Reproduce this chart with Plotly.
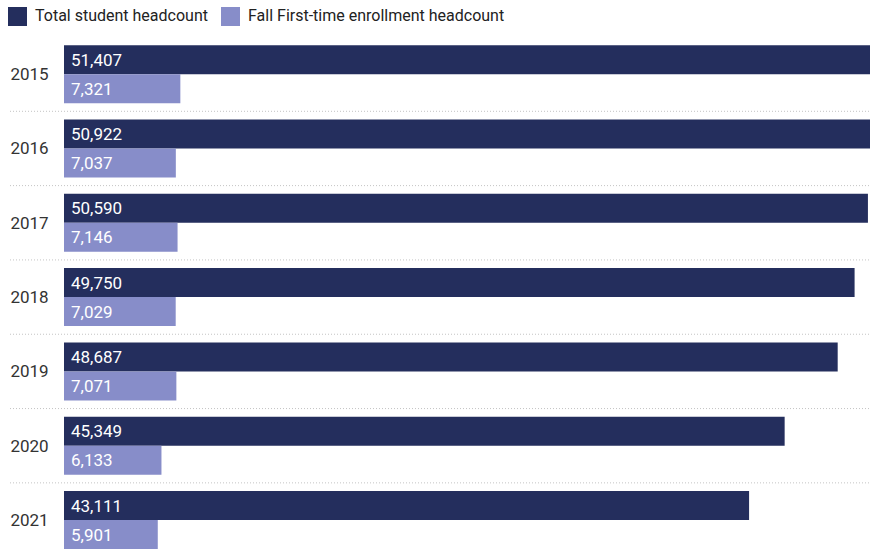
import plotly.graph_objects as go

years = ["2015", "2016", "2017", "2018", "2019", "2020", "2021"]
total_headcount = [51407, 50922, 50590, 49750, 48687, 45349, 43111]
first_time = [7321, 7037, 7146, 7029, 7071, 6133, 5901]
series_names = ["Total student headcount", "Fall First-time enrollment headcount"]
colors = ["#242e5d", "#878dc9"]

W, H = 870, 549
ML, MT = 64, 37
PW, PH = W - ML, H - MT

ypos = list(range(len(years)))

fig = go.Figure()
for vals, name, col in zip([total_headcount, first_time], series_names, colors):
    fig.add_trace(go.Bar(
        x=vals, y=ypos, orientation="h", name=name, marker=dict(color=col, line=dict(width=0)),
        showlegend=False, hoverinfo="x+name",
    ))

# value labels
for i in ypos:
    for k, vals in enumerate([total_headcount, first_time]):
        fig.add_annotation(
            x=0, y=i - 0.195 + 0.39 * k, xref="x", yref="y",
            text=f"{vals[i]:,}", showarrow=False, xanchor="left", yanchor="middle",
            xshift=5, font=dict(family="Roboto", size=17, color="white"),
        )

# dotted separators
for i in range(len(years) - 1):
    fig.add_shape(type="line", xref="paper", yref="y",
                  x0=-54 / PW, x1=1, y0=i + 0.5, y1=i + 0.5,
                  line=dict(color="#c4c4c4", width=1, dash="1px,2px"), layer="below")

# manual legend
legend_items = [(8, 33), (221, 246)]
for (sx, tx), name, col in zip(legend_items, series_names, colors):
    fig.add_shape(type="rect", xref="paper", yref="paper",
                  x0=(sx - ML) / PW, x1=(sx + 19 - ML) / PW,
                  y0=(H - 26) / PH, y1=(H - 7) / PH,
                  fillcolor=col, line=dict(width=0))
    fig.add_annotation(x=(tx - ML) / PW, y=(H - 15.5) / PH, xref="paper", yref="paper",
                       text=name, showarrow=False, xanchor="left", yanchor="middle",
                       font=dict(family="Roboto", size=16, color="#222222"))

fig.update_layout(
    width=W, height=H, margin=dict(l=ML, r=0, t=MT, b=0),
    barmode="group", bargap=0.22, bargroupgap=0,
    plot_bgcolor="white", paper_bgcolor="white",
    font=dict(family="Roboto", size=17, color="#333333"),
    xaxis=dict(range=[0, 50720], visible=False, showgrid=False, zeroline=False, fixedrange=True),
    yaxis=dict(range=[6.39, -0.5], tickvals=ypos, ticktext=years, showgrid=False,
               zeroline=False, ticks="outside", ticklen=11, tickcolor="rgba(0,0,0,0)",
               tickfont=dict(family="Roboto", size=17, color="#333333"), showline=False),
    showlegend=False,
)

fig.write_html("out.html")
